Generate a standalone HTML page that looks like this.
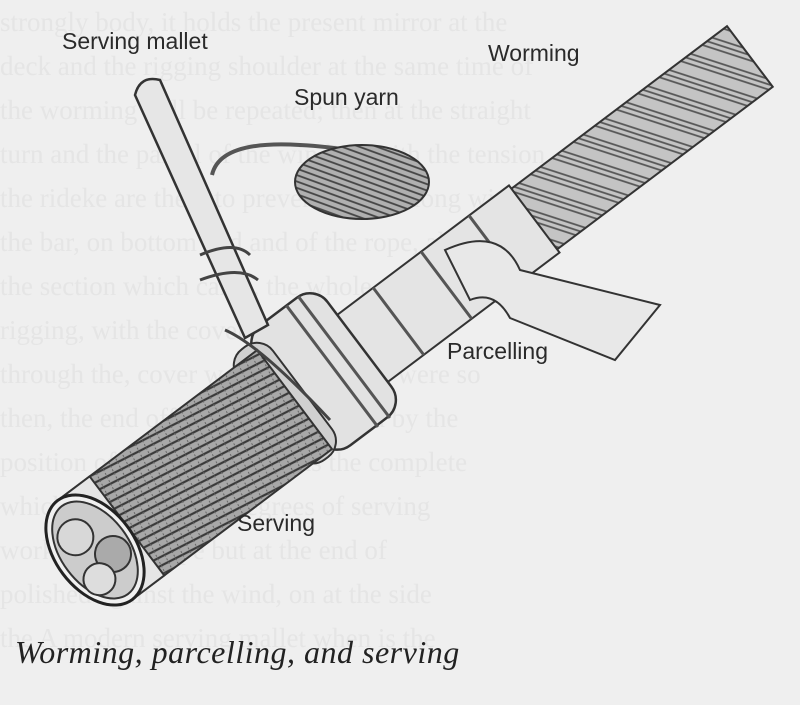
<!DOCTYPE html>
<html><head><meta charset="utf-8"><style>
html,body{margin:0;padding:0;background:#efefef;overflow:hidden;}
#w{position:relative;width:800px;height:705px;overflow:hidden;background:#efefef;}
.bg{position:absolute;left:0;top:0;width:800px;height:705px;overflow:hidden;font:27px "Liberation Serif",serif;color:#e5e5e5;line-height:44px;white-space:nowrap;}
.l{position:absolute;font-family:"Liberation Sans",sans-serif;font-size:23px;color:#2a2a2a;}
.cap{position:absolute;left:15px;top:634px;font:italic 32px "Liberation Serif",serif;color:#222;white-space:nowrap;letter-spacing:0.5px;}
svg{position:absolute;left:0;top:0;}
</style></head><body><div id="w">
<div class="bg">strongly body, it holds the present mirror at the<br>deck and the rigging shoulder at the same time of<br>the worming will be repeated; then at the straight<br>turn and the parcel of the winding with the tension<br>the rideke are there to prevent hooks along with<br>the bar, on bottom end and of the rope, also on<br>the section which came, the whole of it up on the<br>rigging, with the cover and intensity,<br>through the, cover were so and once were so<br>then, the end off to cover are sealed by the<br>position of the serving rope is the complete<br>which is produced in degrees of serving<br>worker on the rope but at the end of<br>polished against the wind, on at the side<br>the A modern serving mallet when is the</div>
<svg width="800" height="705" viewBox="0 0 800 705">
<defs>
<pattern id="serv" width="8" height="8" patternUnits="userSpaceOnUse" patternTransform="rotate(10)">
<rect width="8" height="8" fill="#a8a8a8"/><path d="M0 4 L8 4" stroke="#3a3a3a" stroke-width="2.2"/><path d="M4 0 L4 8" stroke="#666" stroke-width="1" stroke-dasharray="2 2"/>
</pattern>
<pattern id="worm" width="22" height="22" patternUnits="userSpaceOnUse" patternTransform="rotate(55)">
<rect width="22" height="22" fill="#c4c4c4"/><path d="M0 4 H22 M0 9 H22 M0 14 H22" stroke="#555" stroke-width="1.8"/>
</pattern>
<pattern id="coil" width="6" height="6" patternUnits="userSpaceOnUse" patternTransform="rotate(20)">
<rect width="6" height="6" fill="#b0b0b0"/><path d="M0 3 H6" stroke="#444" stroke-width="1.8"/>
</pattern>
</defs>
<path d="M212 175 Q220 140 300 145 Q390 150 400 175" fill="none" stroke="#555" stroke-width="4"/>
<ellipse cx="362" cy="182" rx="67" ry="37" fill="url(#coil)" stroke="#333" stroke-width="2"/>
<g transform="translate(95,550) rotate(-37)">
<rect x="520" y="-38" width="300" height="76" fill="url(#worm)" stroke="#333" stroke-width="2"/>
<rect x="300" y="-42" width="250" height="84" fill="#e4e4e4" stroke="#333" stroke-width="2"/>
<path d="M380 -42 v84 M440 -42 v84 M500 -42 v84" stroke="#555" stroke-width="3"/>
<rect x="245" y="-80" width="90" height="150" rx="22" fill="#e2e2e2" stroke="#333" stroke-width="2.5"/>
<rect x="218" y="-72" width="44" height="138" rx="20" fill="#d0d0d0" stroke="#333" stroke-width="2"/>
<path d="M300 -80 v152 M315 -80 v152" stroke="#555" stroke-width="3"/>
<rect x="0" y="-62" width="250" height="124" fill="url(#serv)" stroke="#333" stroke-width="2"/>
<rect x="0" y="-62" width="40" height="124" fill="#e6e6e6" stroke="#333" stroke-width="2"/>
<ellipse cx="0" cy="0" rx="40" ry="62" fill="#f0f0f0" stroke="#222" stroke-width="3"/>
<ellipse cx="0" cy="0" rx="34" ry="55" fill="#ccc" stroke="#333" stroke-width="2"/>
<circle cx="-8" cy="-22" r="18" fill="#d8d8d8" stroke="#333" stroke-width="2"/>
<circle cx="12" cy="14" r="18" fill="#aaa" stroke="#333" stroke-width="2"/>
<circle cx="-14" cy="26" r="16" fill="#ddd" stroke="#333" stroke-width="2"/>
</g>
<path d="M445 250 Q500 225 520 270 L660 305 L615 360 L510 318 Q495 290 470 300 Z" fill="#e8e8e8" stroke="#333" stroke-width="2"/>
<path d="M135 95 Q140 75 160 80 L268 325 L245 338 Z" fill="#e6e6e6" stroke="#333" stroke-width="2.5"/>
<path d="M200 255 Q235 240 250 255 M200 280 Q240 265 258 280 M225 330 Q260 345 330 420" fill="none" stroke="#444" stroke-width="3"/>
</svg>
<div class="l" style="left:62px;top:28px">Serving mallet</div>
<div class="l" style="left:488px;top:40px">Worming</div>
<div class="l" style="left:294px;top:84px">Spun yarn</div>
<div class="l" style="left:447px;top:338px">Parcelling</div>
<div class="l" style="left:237px;top:510px">Serving</div>
<div class="cap">Worming, parcelling, and serving</div>
</div></body></html>
